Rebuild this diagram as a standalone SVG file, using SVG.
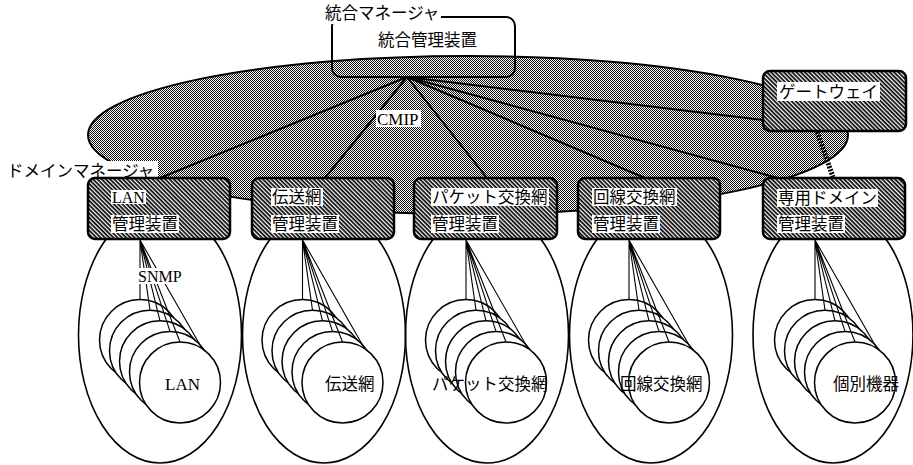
<svg xmlns="http://www.w3.org/2000/svg" width="913" height="465" viewBox="0 0 913 465">
<style>
.cjk{font-family:"Noto Sans CJK JP","Noto Sans CJK SC",sans-serif;font-size:16.5px;fill:#000}
.lat{font-family:"Liberation Serif",serif;fill:#000}
.box{fill:url(#hatch);stroke:#000;stroke-width:2.5}
.bg{fill:#fff}
.hub{stroke:#000;stroke-width:2;fill:none}
.dom{fill:none;stroke:#000;stroke-width:1.6}
.cir{fill:#fff;stroke:#000;stroke-width:1.5}
.fan{stroke:#000;stroke-width:1.1;fill:none}
</style>
<defs>
<pattern id="hatch" patternUnits="userSpaceOnUse" width="3" height="3" patternTransform="rotate(45)">
<rect width="3" height="3" fill="#fff"/>
<rect width="3" height="1.7" fill="#000"/>
</pattern>
<pattern id="dots" patternUnits="userSpaceOnUse" width="2" height="2">
<rect width="2" height="2" fill="#fff"/>
<rect width="1" height="1" fill="#111"/>
<rect x="1" y="1" width="1" height="1" fill="#111"/>
</pattern>
<g id="stack">
<circle class="cir" cx="-40" cy="340.1" r="40.5"/>
<circle class="cir" cx="-30" cy="350.7" r="40.5"/>
<circle class="cir" cx="-20" cy="361.3" r="40.5"/>
<circle class="cir" cx="-10" cy="371.9" r="40.5"/>
<circle class="cir" cx="0" cy="382.5" r="40.5"/>
<path class="fan" d="M-40 240V299.6M-40 240L-30 310.2M-40 240L-20 320.8M-40 240L-10 331.4M-40 240L0 342M-40 240L22 348.5"/>
</g>
</defs>

<!-- integrated management area -->
<g id="mgmt-area">
<ellipse cx="468" cy="135" rx="380" ry="79" fill="url(#dots)" stroke="#000" stroke-width="2"/>
</g>

<!-- domain ellipses -->
<g id="domain-areas">
<ellipse class="dom" cx="160" cy="335" rx="81.5" ry="128"/>
<ellipse class="dom" cx="324" cy="335" rx="81.5" ry="128"/>
<ellipse class="dom" cx="487" cy="335" rx="81.5" ry="128"/>
<ellipse class="dom" cx="651" cy="335" rx="81.5" ry="128"/>
<ellipse class="dom" cx="833" cy="335" rx="80" ry="128"/>
</g>

<!-- connectors -->
<g id="connectors">
<path class="hub" d="M407 77L160 178M407 77L325 178M407 77L487 178M407 77L645 178M407 77L778 178M407 77L763 120"/>
<line x1="817" y1="132" x2="833" y2="177" stroke="#000" stroke-width="5" stroke-dasharray="2 1.3"/>
</g>

<!-- integrated manager -->
<g id="integrated-manager">
<rect x="332" y="17" width="183" height="60" rx="9" fill="none" stroke="#000" stroke-width="2"/>
<rect class="bg" x="321" y="3" width="120" height="21"/>
<text class="cjk" x="325" y="19" font-size="16">統合マネージャ</text>
<text class="cjk" x="378" y="46">統合管理装置</text>
</g>

<g id="cmip-label">
<rect class="bg" x="376" y="110" width="45" height="17"/>
<text class="lat" x="377" y="125" font-size="17">CMIP</text>
</g>

<g id="domain-manager-label">
<rect class="bg" x="5" y="161" width="153" height="19"/>
<text class="cjk" x="7" y="177" font-size="16.5">ドメインマネージャ</text>
</g>

<!-- gateway -->
<g id="gateway">
<rect class="box" x="763" y="71" width="143" height="60" rx="7"/>
<rect class="bg" x="777" y="82" width="103" height="19"/>
<text class="cjk" x="779" y="98">ゲートウェイ</text>
</g>

<!-- domain manager boxes -->
<g id="lan-mgr">
<rect class="box" x="88" y="178" width="142" height="61" rx="7"/>
<rect class="bg" x="111" y="190" width="35" height="14"/>
<text class="lat" x="112" y="203" font-size="16">LAN</text>
<rect class="bg" x="111" y="215" width="68" height="18"/>
<text class="cjk" x="112" y="230">管理装置</text>
</g>
<g id="trans-mgr">
<rect class="box" x="252" y="178" width="142" height="61" rx="7"/>
<rect class="bg" x="271" y="188" width="52" height="18"/>
<text class="cjk" x="272" y="203">伝送網</text>
<rect class="bg" x="271" y="215" width="68" height="18"/>
<text class="cjk" x="272" y="230">管理装置</text>
</g>
<g id="packet-mgr">
<rect class="box" x="414" y="178" width="143" height="61" rx="7"/>
<rect class="bg" x="431" y="188" width="118" height="18"/>
<text class="cjk" x="432" y="203">パケット交換網</text>
<rect class="bg" x="431" y="215" width="68" height="18"/>
<text class="cjk" x="432" y="230">管理装置</text>
</g>
<g id="circuit-mgr">
<rect class="box" x="578" y="178" width="142" height="61" rx="7"/>
<rect class="bg" x="592" y="188" width="85" height="18"/>
<text class="cjk" x="593" y="203">回線交換網</text>
<rect class="bg" x="592" y="215" width="68" height="18"/>
<text class="cjk" x="593" y="230">管理装置</text>
</g>
<g id="private-mgr">
<rect class="box" x="763" y="178" width="142" height="61" rx="7"/>
<rect class="bg" x="777" y="189" width="101" height="18"/>
<text class="cjk" x="778" y="204">専用ドメイン</text>
<rect class="bg" x="777" y="215" width="68" height="18"/>
<text class="cjk" x="778" y="230">管理装置</text>
</g>

<!-- managed element stacks -->
<g id="lan-stack">
<use href="#stack" x="180"/>
<text class="lat" x="165" y="390" font-size="17">LAN</text>
</g>
<g id="trans-stack">
<use href="#stack" x="342.5"/>
<text class="cjk" x="325" y="390">伝送網</text>
</g>
<g id="packet-stack">
<use href="#stack" x="506"/>
<text class="cjk" x="432" y="390">パケット交換網</text>
</g>
<g id="circuit-stack">
<use href="#stack" x="669"/>
<text class="cjk" x="620" y="390">回線交換網</text>
</g>
<g id="device-stack">
<use href="#stack" x="855"/>
<text class="cjk" x="833" y="390">個別機器</text>
</g>

<g id="snmp-label">
<rect class="bg" x="137" y="268" width="47" height="16"/>
<text class="lat" x="138" y="282" font-size="16">SNMP</text>
</g>
</svg>
